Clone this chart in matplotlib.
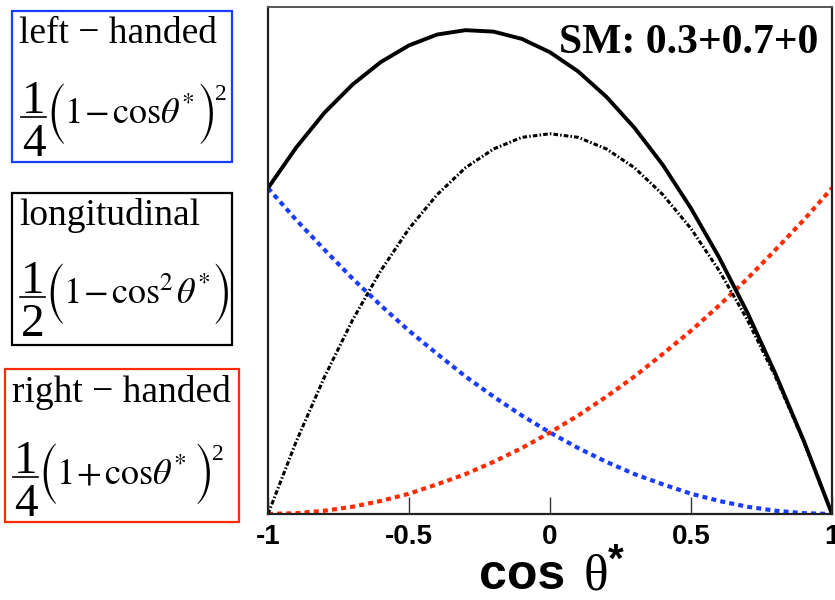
import matplotlib
matplotlib.use("Agg")
import matplotlib.pyplot as plt
from matplotlib.patches import Rectangle
from matplotlib.lines import Line2D

plt.rcParams["mathtext.fontset"] = "stix"
plt.rcParams["axes.unicode_minus"] = False

# cos(theta*) sample points
cos_theta = [-1.0, -0.9, -0.8, -0.7, -0.6, -0.5, -0.4, -0.3, -0.2, -0.1, 0.0,
             0.1, 0.2, 0.3, 0.4, 0.5, 0.6, 0.7, 0.8, 0.9, 1.0]

# weighted helicity components (SM fractions 0.3 / 0.7 / 0)
left_handed = [0.450, 0.406, 0.365, 0.325, 0.288, 0.253, 0.221, 0.190, 0.162, 0.136, 0.1125,
               0.091, 0.072, 0.055, 0.041, 0.028, 0.018, 0.010, 0.0045, 0.0011, 0.0]
right_handed = [0.0, 0.0011, 0.0045, 0.010, 0.018, 0.028, 0.041, 0.055, 0.072, 0.091, 0.1125,
                0.136, 0.162, 0.190, 0.221, 0.253, 0.288, 0.325, 0.365, 0.406, 0.450]
longitudinal = [0.0, 0.100, 0.189, 0.268, 0.336, 0.394, 0.441, 0.478, 0.504, 0.520, 0.525,
                0.520, 0.504, 0.478, 0.441, 0.394, 0.336, 0.268, 0.189, 0.100, 0.0]
total = [0.450, 0.506, 0.554, 0.593, 0.624, 0.647, 0.662, 0.668, 0.666, 0.656, 0.6375,
         0.611, 0.576, 0.533, 0.482, 0.422, 0.354, 0.278, 0.193, 0.101, 0.0]

x_ticks = [-1, -0.5, 0, 0.5, 1]
x_tick_labels = ["-1", "-0.5", "0", "0.5", "1"]

W, H = 835, 600
fig = plt.figure(figsize=(W / 100, H / 100), dpi=100)


def fx(px):
    return px / W


def fy(py):
    return 1 - py / H


ax = fig.add_axes([fx(268), fy(514), fx(832) - fx(268), fy(7) - fy(514)])

BLUE = "#1a3cff"
RED = "#ff2a00"

ax.plot(cos_theta, left_handed, color=BLUE, lw=3.0, linestyle=(0, (1.2, 1.0)))
ax.plot(cos_theta, right_handed, color=RED, lw=3.0, linestyle=(0, (1.2, 1.0)))
ax.plot(cos_theta, longitudinal, color="black", lw=2.2,
        linestyle=(0, (1.5, 0.7, 0.5, 0.7)))
ax.plot(cos_theta, total, color="black", lw=2.8, solid_capstyle="round")

ax.set_xlim(-1, 1)
ax.set_ylim(0, 0.70)
ax.set_xticks(x_ticks)
ax.set_xticklabels(x_tick_labels, fontfamily="Liberation Sans",
                   fontweight="bold", fontsize=20)
ax.set_yticks([])
ax.tick_params(axis="x", direction="in", length=12, width=1.0, pad=7,
               color="#333333")
for side in ["left", "right", "bottom"]:
    ax.spines[side].set_linewidth(1.6)
    ax.spines[side].set_color("#222222")
ax.spines["top"].set_linewidth(1.4)
ax.spines["top"].set_color("#555555")

fig.text(fx(818), fy(53), "SM: 0.3+0.7+0", ha="right", va="baseline",
         fontfamily="Liberation Serif", fontweight="bold", fontsize=30)

# axis title: bold "cos", thin serif theta, bold star
fig.text(fx(479), fy(589), "cos", fontfamily="Liberation Sans",
         fontweight="heavy", fontsize=36, ha="left", va="baseline")
fig.text(fx(584), fy(589), "θ", fontfamily="Liberation Serif",
         fontsize=37, ha="left", va="baseline")
fig.text(fx(608), fy(572), "*", fontfamily="Liberation Sans",
         fontweight="bold", fontsize=29, ha="left", va="baseline")

renderer = fig.canvas.get_renderer()


def formula(xbar, ybar, num, den, body, xclose, closing_sup):
    """Draw  num/den ( body )^sup  with its fraction bar at pixel (xbar, ybar)."""
    bar_w = 25
    xc = xbar + bar_w / 2
    fig.add_artist(Line2D([fx(xbar), fx(xbar + bar_w)], [fy(ybar), fy(ybar)],
                          transform=fig.transFigure, color="black", lw=1.2))
    fig.text(fx(xc), fy(ybar - 4), num, fontfamily="Liberation Serif",
             fontsize=34, ha="center", va="baseline")
    fig.text(fx(xc), fy(ybar + 39), den, fontfamily="Liberation Serif",
             fontsize=34, ha="center", va="baseline")
    po = fig.text(fx(xbar + bar_w), fy(ybar - 3), "(", fontfamily="STIXSizeTwoSym",
                  fontsize=24, ha="left", va="center")
    x = po.get_window_extent(renderer).x1 - 2
    b = fig.text(fx(x), fy(ybar + 7), body, fontsize=26, ha="left",
                 va="baseline")
    xb = b.get_window_extent(renderer).x1 + 1
    pc = fig.text(fx(max(xclose, xb)), fy(ybar - 3), ")",
                  fontfamily="STIXSizeTwoSym", fontsize=24, ha="left",
                  va="center")
    if closing_sup:
        x = pc.get_window_extent(renderer).x1 - 1
        fig.text(fx(x), fy(ybar - 17), closing_sup, fontfamily="Liberation Serif",
                 fontsize=17, ha="left", va="baseline")


# legend boxes at the left
boxes = [
    (12, 11, 232, 162, BLUE, "left − handed", 43,
     (21, 117, "1", "4",
      r"$1\hspace{0.1}{-}\hspace{0.1}\mathrm{cos}\theta^{*}$", 196, "2")),
    (12, 193, 232, 345, "black", "longitudinal", 225,
     (20, 297, "1", "2",
      r"$1\hspace{0.1}{-}\hspace{0.1}\mathrm{cos}^{2}\hspace{0.08}\theta^{*}$", 209, "")),
    (5, 369, 239, 522, RED, "right − handed", 402,
     (13, 477, "1", "4",
      r"$1\hspace{0.1}{+}\hspace{0.1}\mathrm{cos}\theta^{*}$", 193, "2")),
]
for x0, y0, x1, y1, ec, title, ty, fargs in boxes:
    fig.add_artist(Rectangle((fx(x0), fy(y1)), fx(x1) - fx(x0), fy(y0) - fy(y1),
                             transform=fig.transFigure, fill=False,
                             edgecolor=ec, linewidth=1.6))
    fig.text(fx(x0 + 7), fy(ty), title, fontfamily="Liberation Serif",
             fontsize=27, ha="left", va="baseline")
    formula(*fargs)

fig.savefig("out.png", dpi=100)
